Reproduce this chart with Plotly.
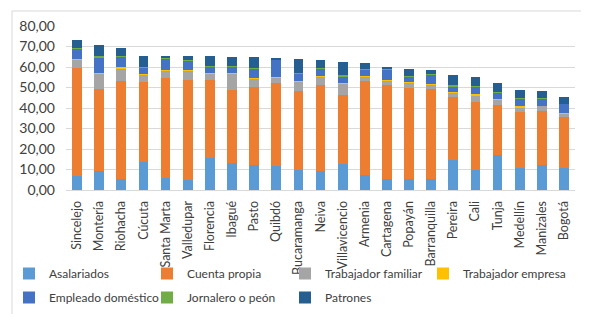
import plotly.graph_objects as go

ciudades = ["Sincelejo", "Montería", "Riohacha", "Cúcuta", "Santa Marta", "Valledupar",
            "Florencia", "Ibagué", "Pasto", "Quibdó", "Bucaramanga", "Neiva",
            "Villavicencio", "Armenia", "Cartagena", "Popayán", "Barranquilla",
            "Pereira", "Cali", "Tunja", "Medellín", "Manizales", "Bogotá"]

asalariados = [6.9, 9.3, 5.6, 13.7, 6.0, 4.9, 15.8, 13.1, 12.2, 11.8, 9.8, 9.3,
               12.9, 7.3, 5.2, 5.2, 5.6, 14.7, 9.8, 17.1, 10.8, 12.1, 10.9]
cuenta_propia = [52.7, 40.0, 47.5, 38.9, 48.7, 49.0, 37.9, 35.7, 37.9, 40.4, 38.4, 42.1,
                 33.6, 45.8, 46.2, 44.6, 43.7, 30.9, 33.3, 24.5, 27.2, 26.3, 24.5]
trab_familiar = [4.1, 7.4, 6.0, 3.6, 3.6, 4.4, 3.3, 7.9, 4.4, 2.8, 4.9, 3.9,
                 5.6, 2.2, 2.0, 2.8, 2.1, 2.2, 2.9, 2.5, 2.3, 2.6, 2.0]
trab_empresa = [0.2, 0.4, 0.8, 0.3, 0.4, 0.4, 0.2, 0.4, 0.3, 0.2, 0.3, 0.2,
                0.3, 0.2, 0.2, 0.2, 0.2, 0.2, 1.0, 0.2, 0.5, 0.2, 0.2]
empleado_dom = [5.3, 7.7, 5.4, 3.3, 5.3, 4.4, 3.0, 3.1, 4.6, 8.3, 3.6, 3.6,
                2.9, 3.1, 5.2, 2.7, 4.6, 2.6, 3.3, 3.2, 3.9, 3.3, 4.4]
jornalero = [0.2, 0.4, 0.2, 0.4, 0.2, 0.3, 0.5, 0.5, 0.2, 0.1, 0.2, 0.4,
             1.0, 0.4, 0.2, 0.2, 0.2, 0.6, 0.2, 0.2, 0.1, 0.6, 0.1]
patrones = [3.6, 5.6, 3.6, 5.4, 1.4, 2.1, 4.6, 4.1, 5.1, 0.8, 6.5, 4.0,
            6.2, 2.8, 1.2, 3.2, 2.0, 5.0, 4.5, 4.5, 4.2, 3.2, 3.5]

series = [
    ("Asalariados", asalariados, "#5B9BD5", "legend"),
    ("Cuenta propia", cuenta_propia, "#ED7D31", "legend"),
    ("Trabajador familiar", trab_familiar, "#A5A5A5", "legend"),
    ("Trabajador empresa", trab_empresa, "#FFC000", "legend3"),
    ("Empleado doméstico", empleado_dom, "#4472C4", "legend2"),
    ("Jornalero o peón", jornalero, "#70AD47", "legend2"),
    ("Patrones", patrones, "#255E91", "legend2"),
]

FONT = "Lato"
fig = go.Figure()
for name, vals, col, lg in series:
    fig.add_trace(go.Bar(x=ciudades, y=vals, name=name, marker_color=col,
                         marker_line_width=0, legend=lg))

W, H = 589, 314
ml, mr, mt, mb = 58, 0, 18, 132
plot_right = 567
gw = W - ml - mr            # paper width in px
ph = H - mt - mb

def px_x(p):
    return (p - ml) / gw

def px_y(p):
    return ((H - mb) - p) / ph

legend_common = dict(orientation="h", xref="paper", yref="paper",
                     xanchor="left", yanchor="top",
                     entrywidth=93, entrywidthmode="pixels", traceorder="normal",
                     font=dict(family=FONT, size=12, color="#404040"),
                     itemwidth=30, bgcolor="rgba(0,0,0,0)")

fig.update_layout(
    width=W, height=H,
    barmode="stack", bargap=0.56,
    margin=dict(l=ml, r=mr, t=mt, b=mb, autoexpand=False),
    paper_bgcolor="white", plot_bgcolor="white",
    separators=",.",
    font=dict(family=FONT, size=13, color="#404040"),
    showlegend=True,
    legend=dict(legend_common, x=px_x(1), y=px_y(251)),
    legend2=dict(legend_common, x=px_x(1), y=px_y(275)),
    legend3=dict(legend_common, x=px_x(1 + 3 * 138), y=px_y(251), entrywidth=130),
    xaxis=dict(domain=[0, (plot_right - ml) / gw],
               tickangle=-90, tickfont=dict(family=FONT, size=12.5, color="#404040"),
               showline=True, linecolor="#D9D9D9", linewidth=1, ticks="",
               ticklabelstandoff=5, automargin=False),
    yaxis=dict(range=[0, 80], dtick=10, tickformat=".2f",
               tickfont=dict(family=FONT, size=14, color="#404040"),
               showgrid=True, gridcolor="#D9D9D9", gridwidth=1,
               zeroline=False, ticklabelstandoff=10, automargin=False),
    shapes=[dict(type="rect", xref="paper", yref="paper",
                 x0=px_x(4), x1=px_x(585),
                 y0=px_y(310), y1=px_y(3),
                 line=dict(color="#D9D9D9", width=1), layer="below")],
)

fig.write_html("out.html")
